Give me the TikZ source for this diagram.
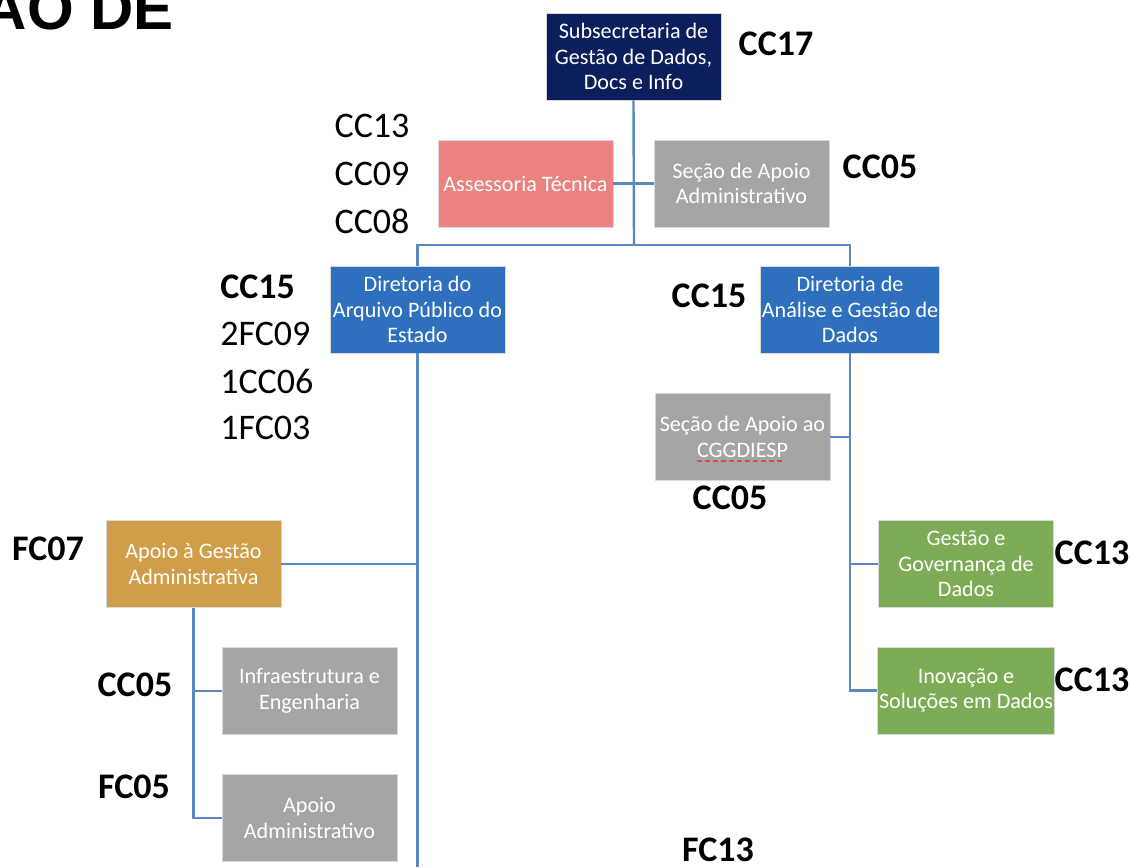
\documentclass[tikz,border=0pt]{standalone}
\usepackage{fontspec}
\setmainfont{Carlito}
\newfontfamily\titlefont{Liberation Sans}
\usetikzlibrary{positioning}
\definecolor{navybox}{RGB}{12,30,92}
\definecolor{salmonbox}{RGB}{235,130,128}
\definecolor{graybox}{RGB}{165,165,165}
\definecolor{bluebox}{RGB}{46,112,190}
\definecolor{tanbox}{RGB}{208,157,72}
\definecolor{greenbox}{RGB}{126,171,85}
\definecolor{linkblue}{RGB}{91,134,192}
\definecolor{squigred}{RGB}{228,72,58}

\begin{document}
\begin{tikzpicture}[x=0.75pt,y=0.75pt,yscale=-1,xscale=1,
  unitbox/.style={rectangle, draw=white!85!black, line width=0.5pt, text=white, align=center,
    minimum width=131.25pt, minimum height=65.25pt, inner sep=1pt,
    font=\fontsize{16.6}{19.2}\selectfont},
  link/.style={draw=linkblue, line width=1.8pt},
  codebold/.style={inner sep=0pt, font=\fontsize{27}{30}\selectfont\bfseries},
  codeplain/.style={inner sep=0pt, font=\fontsize{27}{30}\selectfont}]
\useasboundingbox (0,0) rectangle (1131,867);
\clip (0,0) rectangle (1131,867);

% Title (cut off at the border)
\node (title) [anchor=base east, inner sep=0pt, font=\titlefont\fontsize{45}{50}\selectfont\bfseries] at (174,30) {AO DE};

% Boxes
\node (sub) [unitbox, fill=navybox] at (633.5,56.5) {Subsecretaria de\\Gestão de Dados,\\Docs e Info};
\node (asse) [unitbox, fill=salmonbox] at (525.5,183.5) {Assessoria Técnica};
\node (sec) [unitbox, fill=graybox] at (741.5,183.5) {Seção de Apoio\\Administrativo};
\node (dirA) [unitbox, fill=bluebox] at (417.5,309.5) {Diretoria do\\Arquivo Público do\\Estado};
\node (dirB) [unitbox, fill=bluebox] at (850,309.5) {Diretoria de\\Análise e Gestão de\\Dados};
\node (secg) [unitbox, fill=graybox] at (742.5,437) {Seção de Apoio ao\\CGGDIESP};
\node (apg) [unitbox, fill=tanbox] at (193.5,564) {Apoio à Gestão\\Administrativa};
\node (infra) [unitbox, fill=graybox] at (309.5,691) {Infraestrutura e\\Engenharia};
\node (apad) [unitbox, fill=graybox] at (309.5,818) {Apoio\\Administrativo};
\node (gov) [unitbox, fill=greenbox] at (966,564) {Gestão e\\Governança de\\Dados};
\node (inov) [unitbox, fill=greenbox] at (966,690.5) {Inovação e\\Soluções em Dados};

% spell-check mark under CGGDIESP
\draw [squigred, line width=2pt, dash pattern={on 3.75pt off 2.25pt}] (697,461) -- (782,461);

% Codes
\node (cSub) [codebold] at (776,44) {CC17};
\node (cAsse1) [codeplain] at (372,126) {CC13};
\node (cAsse2) [codeplain] at (372,174) {CC09};
\node (cAsse3) [codeplain] at (372,221) {CC08};
\node (cSec) [codebold] at (880,167) {CC05};
\node (cDirA1) [codebold, anchor=west] at (220,287) {CC15};
\node (cDirA2) [codeplain, anchor=west] at (220,334) {2FC09};
\node (cDirA3) [codeplain, anchor=west] at (220,381) {1CC06};
\node (cDirA4) [codeplain, anchor=west] at (220,428) {1FC03};
\node (cDirB) [codebold] at (709,296) {CC15};
\node (cSecg) [codebold] at (730,498) {CC05};
\node (cApg) [codebold] at (48,549) {FC07};
\node (cInfra) [codebold] at (135,685) {CC05};
\node (cApad) [codebold] at (134,787) {FC05};
\node (cGov) [codebold] at (1092,553) {CC13};
\node (cInov) [codebold] at (1092,680) {CC13};
\node (cLow) [codebold] at (718,850) {FC13};

% Connectors
\coordinate (bus) at (634,245);
\coordinate (floor) at (418,867);
\draw [link] (sub.south) -- (bus);
\draw [link] (asse.east) -- (sec.west);
\draw [link] (dirA.north) -- (dirA.north |- bus) -- (dirB.north |- bus) -- (dirB.north);
\draw [link] (dirA.south) -- (dirA.south |- floor);
\draw [link] (apg.east) -- (apg.east -| dirA.south);
\draw [link] (apg.south) -- (apg.south |- apad.west) -- (apad.west);
\draw [link] (apg.south |- infra.west) -- (infra.west);
\draw [link] (dirB.south) -- (dirB.south |- inov.west) -- (inov.west);
\draw [link] (dirB.south |- secg.east) -- (secg.east);
\draw [link] (dirB.south |- gov.west) -- (gov.west);
\end{tikzpicture}
\end{document}
